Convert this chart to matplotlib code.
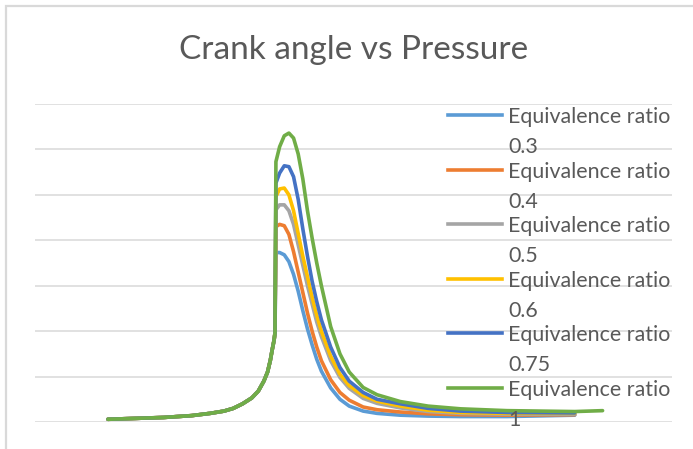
import matplotlib.pyplot as plt
from matplotlib.lines import Line2D
from matplotlib.patches import Rectangle
from matplotlib.transforms import Bbox

# crank angle (deg) - compression part, same for every case
theta_comp = [-180, -150, -120, -90, -70, -55, -45, -35, -25, -18, -12, -8, -5, -3, -1, 0]
p_comp = [0.6, 0.8, 1.0, 1.4, 1.9, 2.4, 3.0, 4.0, 5.3, 6.8, 9.0, 11.0, 13.6, 15.9, 18.0, 19.6]

# after ignition
theta_comb = [1, 5, 10, 15, 20, 25, 30, 35, 40, 45, 50, 60, 70, 80, 95, 110, 135, 165, 200, 250, 323]
theta_green_end = [353]

p_03 = [37.3, 37.3, 36.8, 35.3, 32.5, 28.8, 24.5, 20.5, 17.0, 13.8, 11.2, 7.5, 5.0, 3.5, 2.4, 1.9, 1.5, 1.3, 1.2, 1.2, 1.5]
p_04 = [43.0, 43.5, 43.2, 41.3, 37.5, 33.0, 28.5, 24.0, 20.0, 16.5, 13.5, 9.3, 6.5, 4.8, 3.3, 2.7, 2.2, 1.8, 1.6, 1.5, 1.6]
p_05 = [46.7, 47.8, 47.8, 46.5, 43.5, 39.0, 34.5, 30.0, 26.0, 22.0, 18.8, 13.5, 9.8, 7.4, 5.2, 4.1, 3.1, 2.3, 1.9, 1.7, 1.7]
p_06 = [49.6, 51.3, 51.5, 50.0, 46.5, 41.5, 36.5, 32.0, 27.5, 23.5, 20.0, 14.5, 10.5, 8.0, 5.8, 4.6, 3.5, 2.6, 2.1, 1.9, 1.9]
p_075 = [52.6, 54.8, 56.4, 56.2, 54.0, 49.0, 42.5, 36.5, 31.0, 26.5, 22.5, 16.5, 12.0, 9.0, 6.5, 5.0, 4.0, 3.0, 2.4, 2.1, 2.0]
p_10 = [57.3, 60.6, 63.0, 63.6, 62.5, 59.0, 53.5, 46.5, 40.5, 35.0, 30.0, 21.0, 15.0, 11.0, 7.6, 6.0, 4.5, 3.5, 2.9, 2.5, 2.3, 2.5]

ratios = ["0.3", "0.4", "0.5", "0.6", "0.75", "1"]
colors = ["#5B9BD5", "#ED7D31", "#A5A5A5", "#FFC000", "#4472C4", "#70AD47"]
series = [p_03, p_04, p_05, p_06, p_075, p_10]

W, H = 693, 449
fig = plt.figure(figsize=(W / 100, H / 100), dpi=100)
ax = fig.add_axes([35 / W, 27 / H, 637 / W, 318 / H])

for p, col in zip(series, colors):
    x = theta_comp + theta_comb
    if len(p) > len(theta_comb):
        x = x + theta_green_end
    ax.plot(x, p_comp + p, color=col, lw=2.6, solid_capstyle='round', solid_joinstyle='round')

ax.set_xlim(-258.6, 427.8)
ax.set_ylim(0, 70)
ax.set_yticks(range(0, 71, 10))
ax.grid(axis='y', color='#D9D9D9', lw=1.1)
ax.set_axisbelow(True)
ax.tick_params(length=0, labelleft=False, labelbottom=False)
for s in ax.spines.values():
    s.set_visible(False)

# chart frame (only left and top edges are visible in the crop)
fig.add_artist(Rectangle((6 / W, -0.5), 2, 0.5 + 1 - 6 / H, transform=fig.transFigure,
                         fill=False, ec='#D9D9D9', lw=1.6))

fig.text(354 / W, 1 - 50 / H, "Crank angle vs Pressure", ha='center', va='center',
         fontsize=24, color='#595959', family='Lato')

# legend, drawn on top of the plot area like in the original
clip = Bbox.from_extents(0, 0, 673, H)
for i, (r, col) in enumerate(zip(ratios, colors)):
    yc = 115 + i * 54.6
    fig.add_artist(Line2D([448 / W, 502 / W], [1 - yc / H] * 2, color=col, lw=2.6,
                          transform=fig.transFigure))
    t1 = fig.text(508 / W, 1 - (yc + 8) / H, "Equivalence ratio", va='baseline',
                  fontsize=15.4, color='#595959', family='Lato')
    t2 = fig.text(508 / W, 1 - (yc + 38) / H, r, va='baseline',
                  fontsize=15.4, color='#595959', family='Lato')
    for t in (t1, t2):
        t.set_clip_box(clip)
        t.set_clip_on(True)

fig.savefig("out.png", dpi=100)
